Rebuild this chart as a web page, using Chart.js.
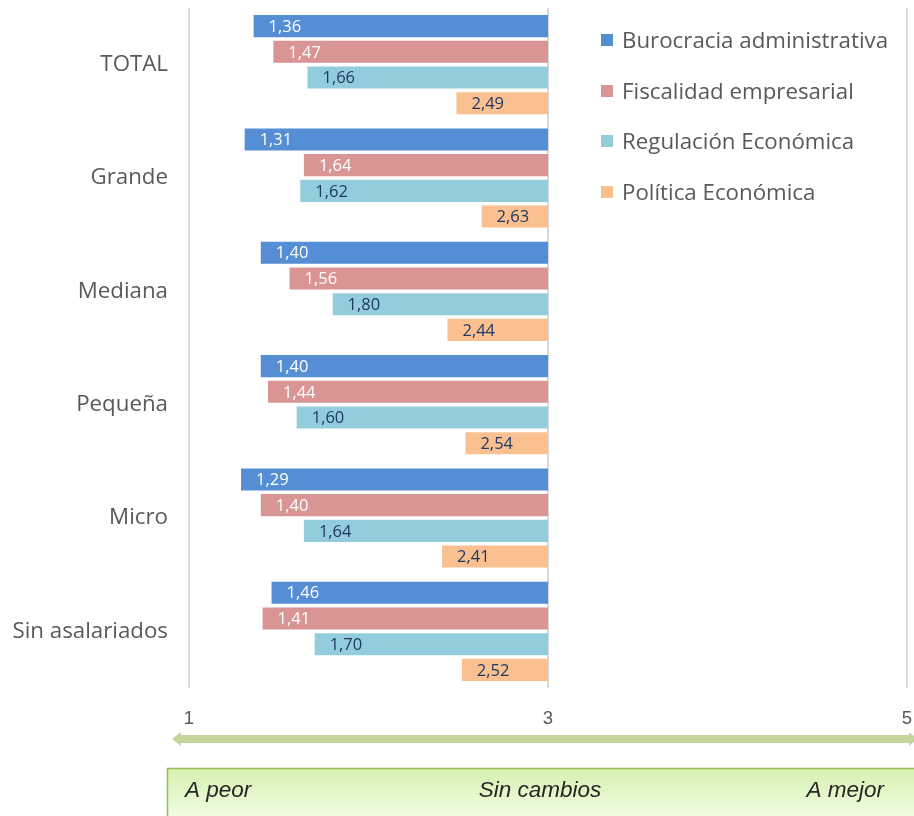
<!DOCTYPE html>
<html>
<head>
<meta charset="utf-8">
<script src="https://cdn.jsdelivr.net/npm/chart.js@4.4.1/dist/chart.umd.min.js"></script>
<style>
  html, body { margin: 0; padding: 0; background: #fff; }
  #wrap { position: relative; width: 914px; height: 816px; overflow: hidden; }
  #legend { position: absolute; left: 601px; top: 25px; font-family: "Open Sans", sans-serif; font-size: 22.3px; line-height: 30px; color: #595959; }
  #legend .item { height: 50.5px; display: flex; align-items: flex-start; white-space: nowrap; }
  #legend .sw { width: 12px; height: 12px; margin: 9px 9px 0 0; flex: none; }
</style>
</head>
<body>
<div id="wrap">
  <canvas id="chart" width="914" height="816"></canvas>
  <div id="legend"></div>
</div>
<script>
// ---- data ----
const categories  = ['TOTAL', 'Grande', 'Mediana', 'Pequeña', 'Micro', 'Sin asalariados'];
const seriesNames = ['Burocracia administrativa', 'Fiscalidad empresarial', 'Regulación Económica', 'Política Económica'];
const burocracia  = [1.36, 1.31, 1.40, 1.40, 1.29, 1.46];
const fiscalidad  = [1.47, 1.64, 1.56, 1.44, 1.40, 1.41];
const regulacion  = [1.66, 1.62, 1.80, 1.60, 1.64, 1.70];
const politica    = [2.49, 2.63, 2.44, 2.54, 2.41, 2.52];
const xTicks      = [1, 3, 5];
const NEUTRAL     = 3;

const COLORS      = ['#558ED5', '#D99594', '#93CDDD', '#FAC090'];
const LABEL_COLOR = ['#ffffff', '#ffffff', '#1F3864', '#1F3864'];

const fmt = v => v.toFixed(2).replace('.', ',');

// labels drawn at the left end of each bar
const barLabels = {
  id: 'barLabels',
  afterDatasetsDraw(chart) {
    const ctx = chart.ctx;
    ctx.save();
    ctx.font = '16.5px "Open Sans", sans-serif';
    ctx.textBaseline = 'middle';
    chart.data.datasets.forEach((ds, i) => {
      chart.getDatasetMeta(i).data.forEach((bar, j) => {
        const left = Math.min(bar.x, bar.base);
        ctx.fillStyle = LABEL_COLOR[i];
        ctx.fillText(fmt(ds.raw[j]), left + 15, bar.y + 1);
      });
    });
    ctx.restore();
  }
};

// green arrow and scale box under the axis
const scaleBox = {
  id: 'scaleBox',
  afterDraw(chart) {
    const ctx = chart.ctx;
    ctx.save();
    // arrow
    const ay = 739, x0 = 172, x1 = 918;
    ctx.fillStyle = '#C3D69B';
    ctx.beginPath();
    ctx.moveTo(x0, ay);
    ctx.lineTo(x0 + 9, ay - 7);
    ctx.lineTo(x0 + 9, ay - 4);
    ctx.lineTo(x1 - 9, ay - 4);
    ctx.lineTo(x1 - 9, ay - 7);
    ctx.lineTo(x1, ay);
    ctx.lineTo(x1 - 9, ay + 7);
    ctx.lineTo(x1 - 9, ay + 4);
    ctx.lineTo(x0 + 9, ay + 4);
    ctx.lineTo(x0 + 9, ay + 7);
    ctx.closePath();
    ctx.fill();
    // box
    const g = ctx.createLinearGradient(0, 768, 0, 816);
    g.addColorStop(0, '#D5F0AE');
    g.addColorStop(1, '#EFFDE2');
    ctx.fillStyle = g;
    ctx.fillRect(167, 768, 760, 60);
    ctx.strokeStyle = '#9BBB59';
    ctx.lineWidth = 1.5;
    ctx.strokeRect(167.5, 768.5, 760, 60);
    // texts
    ctx.fillStyle = '#262626';
    ctx.font = 'italic 22.5px "Liberation Sans", sans-serif';
    ctx.textBaseline = 'middle';
    ctx.textAlign = 'left';
    ctx.fillText('A peor', 185, 791);
    ctx.textAlign = 'center';
    ctx.fillText('Sin cambios', 540, 791);
    ctx.textAlign = 'right';
    ctx.fillText('A mejor', 884, 791);
    ctx.restore();
  }
};

const valueSets = [burocracia, fiscalidad, regulacion, politica];

new Chart(document.getElementById('chart'), {
  type: 'bar',
  data: {
    labels: categories,
    datasets: valueSets.map((vals, i) => ({
      label: seriesNames[i],
      raw: vals,
      data: vals.map(v => [v, NEUTRAL]),
      backgroundColor: COLORS[i],
      borderWidth: 0,
      categoryPercentage: 0.907,
      barPercentage: 0.86,
    }))
  },
  options: {
    indexAxis: 'y',
    responsive: false,
    animation: false,
    layout: { padding: { left: 0, right: 7, top: 8, bottom: 0 } },
    plugins: { legend: { display: false }, tooltip: { enabled: false } },
    scales: {
      x: {
        min: 1, max: 5,
        afterBuildTicks: s => { s.ticks = xTicks.map(v => ({ value: v })); },
        afterFit: s => { s.height = 128; s.paddingLeft = 0; s.paddingRight = 0; },
        grid: { color: '#D9D9D9', lineWidth: 2, drawTicks: false },
        border: { display: false },
        ticks: {
          padding: 20,
          color: '#595959',
          font: { family: '"Liberation Sans", sans-serif', size: 18.5 }
        }
      },
      y: {
        afterFit: s => { s.width = 189; s.paddingTop = 0; s.paddingBottom = 0; },
        grid: { display: false },
        border: { display: false },
        ticks: {
          padding: 13,
          color: '#595959',
          font: { family: '"Open Sans", sans-serif', size: 22.3 }
        }
      }
    }
  },
  plugins: [barLabels, scaleBox]
});

// legend overlay
const legend = document.getElementById('legend');
seriesNames.forEach((name, i) => {
  const row = document.createElement('div');
  row.className = 'item';
  row.innerHTML = '<span class="sw" style="background:' + COLORS[i] + '"></span><span>' + name + '</span>';
  legend.appendChild(row);
});
</script>
</body>
</html>
